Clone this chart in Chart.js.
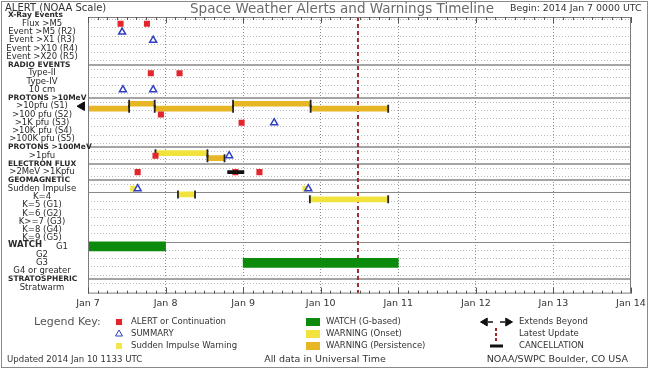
<!DOCTYPE html>
<html>
<head>
<meta charset="utf-8">
<title>Space Weather Alerts and Warnings Timeline</title>
<script src="https://cdn.jsdelivr.net/npm/chart.js"></script>
<style>
  html, body { margin: 0; padding: 0; background: #fff; }
  .chart-wrap { position: relative; width: 650px; height: 369px; }
</style>
</head>
<body>
<div class="chart-wrap"><canvas id="swChart"></canvas></div>
<script>
// rows of the timeline, top to bottom (index = row number on the y scale)
const rowLabels = [
  '', 'Flux >M5', 'Event >M5 (R2)', 'Event >X1 (R3)', 'Event >X10 (R4)', 'Event >X20 (R5)',
  '', 'Type-II', 'Type-IV', '10 cm',
  '', '>10pfu (S1)', '>100 pfu (S2)', '>1K pfu (S3)', '>10K pfu (S4)', '>100K pfu (S5)',
  '', '>1pfu',
  '', '>2MeV >1Kpfu',
  '', 'Sudden Impulse', 'K=4', 'K=5 (G1)', 'K=6 (G2)', 'K>=7 (G3)', 'K=8 (G4)', 'K=9 (G5)',
  'G1', 'G2', 'G3', 'G4 or greater',
  '', 'Stratwarm'
];
const sectionTitles = [
  [0, 'X-Ray Events'], [6, 'RADIO EVENTS'], [10, 'PROTONS >10MeV'], [16, 'PROTONS >100MeV'],
  [18, 'ELECTRON FLUX'], [20, 'GEOMAGNETIC'], [28, 'WATCH'], [32, 'STRATOSPHERIC']
];
const dayLabels = ['Jan 7', 'Jan 8', 'Jan 9', 'Jan 10', 'Jan 11', 'Jan 12', 'Jan 13', 'Jan 14'];

// times are days after 2014 Jan 7 0000 UTC
const alerts = [[1, 0.42], [1, 0.76], [7, 0.81], [7, 1.18], [12, 0.94], [13, 1.98],
                [17, 0.87], [19, 0.64], [19, 1.90], [19, 2.21]];
const summaries = [[2, 0.44], [3, 0.84], [9, 0.45], [9, 0.84], [13, 2.40], [17, 1.82],
                   [21, 0.64], [21, 2.84]];
const impulseWarnings = [[21, 0.58], [21, 2.80]];
// [row, start, end, kind]; a negative start runs in from before the chart
const warnings = [
  [11, -0.5, 0.53, 'persist'], [11, 0.53, 0.86, 'persist'], [11, 0.86, 1.87, 'persist'],
  [11, 1.87, 2.87, 'persist'], [11, 2.87, 3.87, 'persist'],
  [17, 0.87, 1.54, 'onset'], [17, 1.54, 1.76, 'persist'],
  [22, 1.16, 1.38, 'onset'], [22, 2.86, 3.87, 'onset']
];
const cancellations = [[19, 1.80, 2.01]];
const watches = [[28, 0, 1.0], [30, 2.0, 4.0]];
const extendsBeyond = [11];
const latestUpdate = 3.48;

const Y_MIN = 0.18, Y_MAX = 33.73;
const RED = '#e3262b', BLUE = '#2f3fc0', SI_YELLOW = '#f1e64a';
const ONSET = '#f2e33c', PERSIST = '#e6b624', GREEN = '#0b8a0b';
const FONT = '"DejaVu Sans", sans-serif';

// consecutive warnings in a row alternate between an upper and a lower lane
const LANE = 0.3;
const laneOf = {};
const warningBars = warnings.map(([row, start, end, kind]) => {
  if (!(row in laneOf)) laneOf[row] = start < 0 ? 1 : 0;
  else laneOf[row] = 1 - laneOf[row];
  return { x: [start, end], y: row + (laneOf[row] ? LANE : -LANE), kind: kind };
});
const edgeTicks = [];
warningBars.forEach(b => {
  if (b.x[0] >= 0) edgeTicks.push({ x: b.x[0], y: b.y });
  edgeTicks.push({ x: b.x[1], y: b.y });
});

const heavyRules = [6, 10, 16, 18, 20, 32];
const lightRules = [21.5, 27.5];
const gridRows = [];
for (let i = 0; i <= 32; i++) {
  if (!lightRules.includes(i + 0.5)) gridRows.push(i + 0.5);
}
gridRows.push(...heavyRules, ...lightRules);

const drawMark = (ctx, style, x, y) => Chart.helpers.drawPoint(ctx, style, x, y);

const decorations = {
  id: 'decorations',
  afterDraw(chart) {
    const { ctx, chartArea: area, scales: { x, y } } = chart;
    ctx.save();

    // plot frame and 3-hourly tick marks
    ctx.strokeStyle = '#7a7a7a';
    ctx.lineWidth = 1;
    ctx.strokeRect(area.left + 0.5, area.top + 0.5, area.right - area.left - 1, area.bottom - area.top - 1);
    ctx.strokeStyle = '#555';
    for (let h = 0; h <= 56; h++) {
      const px = Math.round(x.getPixelForValue(h / 8)) + 0.5;
      const len = h % 8 === 0 ? 6 : 3;
      ctx.beginPath();
      ctx.moveTo(px, area.top); ctx.lineTo(px, area.top + len);
      ctx.moveTo(px, area.bottom); ctx.lineTo(px, area.bottom - len);
      ctx.stroke();
    }

    // extends-beyond arrows
    ctx.fillStyle = '#111';
    ctx.strokeStyle = '#111';
    extendsBeyond.forEach(row => {
      drawMark(ctx, { pointStyle: 'triangle', rotation: 270, radius: 5, borderWidth: 1 },
        area.left - 6, y.getPixelForValue(row));
    });

    // row labels
    ctx.textBaseline = 'middle';
    ctx.fillStyle = '#2a2a2a';
    const titled = sectionTitles.map(s => s[0]);
    rowLabels.forEach((label, row) => {
      if (!label) return;
      ctx.font = '8.5px ' + FONT;
      ctx.textAlign = 'center';
      ctx.fillText(label, titled.includes(row) ? 62 : 42, y.getPixelForValue(row));
    });
    sectionTitles.forEach(([row, text]) => {
      ctx.font = (text === 'WATCH' ? 'bold 8.5px ' : 'bold 7.5px ') + FONT;
      ctx.textAlign = 'left';
      ctx.fillText(text, 8, y.getPixelForValue(row) - (text === 'WATCH' ? 2 : 0));
    });

    // header
    ctx.fillStyle = '#333';
    ctx.font = '10px ' + FONT;
    ctx.fillText('ALERT (NOAA Scale)', 5, 8);
    ctx.font = '9.4px ' + FONT;
    ctx.fillText('Begin: 2014 Jan 7 0000 UTC', 510, 9);
    ctx.fillStyle = '#6a6a6a';
    ctx.font = '13.5px ' + FONT;
    ctx.textAlign = 'center';
    ctx.fillText('Space Weather Alerts and Warnings Timeline', 342, 9);

    // legend key
    ctx.textAlign = 'left';
    ctx.fillStyle = '#555';
    ctx.font = '11px ' + FONT;
    ctx.fillText('Legend Key:', 34, 322);
    const rowsY = [322, 334, 346];
    ctx.font = '8.5px ' + FONT;

    ctx.fillStyle = RED;
    drawMark(ctx, { pointStyle: 'rect', radius: 4.3, borderWidth: 0 }, 119, rowsY[0]);
    ctx.strokeStyle = BLUE; ctx.fillStyle = 'rgba(0,0,0,0)';
    drawMark(ctx, { pointStyle: 'triangle', radius: 4, borderWidth: 1.5 }, 119, rowsY[1]);
    ctx.fillStyle = SI_YELLOW;
    drawMark(ctx, { pointStyle: 'rect', radius: 4.3, borderWidth: 0 }, 119, rowsY[2]);
    ctx.fillStyle = '#333';
    ['ALERT or Continuation', 'SUMMARY', 'Sudden Impulse Warning']
      .forEach((t, i) => ctx.fillText(t, 131, rowsY[i]));

    [GREEN, ONSET, PERSIST].forEach((c, i) => {
      ctx.fillStyle = c;
      ctx.fillRect(306, rowsY[i] - 4, 14, 8);
    });
    ctx.fillStyle = '#333';
    ['WATCH (G-based)', 'WARNING (Onset)', 'WARNING (Persistence)']
      .forEach((t, i) => ctx.fillText(t, 326, rowsY[i]));

    ctx.fillStyle = '#111'; ctx.strokeStyle = '#111';
    drawMark(ctx, { pointStyle: 'triangle', rotation: 270, radius: 4.5, borderWidth: 1 }, 485, rowsY[0]);
    drawMark(ctx, { pointStyle: 'triangle', rotation: 90, radius: 4.5, borderWidth: 1 }, 508, rowsY[0]);
    ctx.lineWidth = 1.5;
    ctx.beginPath();
    ctx.moveTo(488, rowsY[0]); ctx.lineTo(493, rowsY[0]);
    ctx.moveTo(500, rowsY[0]); ctx.lineTo(505, rowsY[0]);
    ctx.stroke();
    ctx.strokeStyle = '#a3262a'; ctx.lineWidth = 2; ctx.setLineDash([3, 2]);
    ctx.beginPath(); ctx.moveTo(496, rowsY[1] - 6); ctx.lineTo(496, rowsY[1] + 7); ctx.stroke();
    ctx.setLineDash([]);
    ctx.strokeStyle = '#111'; ctx.lineWidth = 3;
    ctx.beginPath(); ctx.moveTo(490, rowsY[2]); ctx.lineTo(503, rowsY[2]); ctx.stroke();
    ctx.fillStyle = '#333';
    ['Extends Beyond', 'Latest Update', 'CANCELLATION']
      .forEach((t, i) => ctx.fillText(t, 519, rowsY[i]));

    // footer
    ctx.font = '8.6px ' + FONT;
    ctx.fillText('Updated 2014 Jan 10 1133 UTC', 7, 360);
    ctx.font = '9.5px ' + FONT;
    ctx.textAlign = 'center';
    ctx.fillText('All data in Universal Time', 325, 360);
    ctx.textAlign = 'right';
    ctx.fillText('NOAA/SWPC Boulder, CO USA', 628, 360);

    // outer frame
    ctx.strokeStyle = '#8a8a8a'; ctx.lineWidth = 1;
    ctx.strokeRect(1.5, 1.5, 646, 366);
    ctx.restore();
  }
};

const ctx = document.getElementById('swChart').getContext('2d');
const chart = new Chart(ctx, {
  type: 'bar',
  data: {
    datasets: [
      {
        type: 'scatter', label: 'Alerts', order: 1,
        data: alerts.map(([row, t]) => ({ x: t, y: row })),
        pointStyle: 'rect', pointRadius: 4.3, pointBorderWidth: 0,
        backgroundColor: RED, borderColor: RED
      },
      {
        type: 'scatter', label: 'Summaries', order: 1,
        data: summaries.map(([row, t]) => ({ x: t, y: row })),
        pointStyle: 'triangle', pointRadius: 4, pointBorderWidth: 1.5,
        backgroundColor: 'rgba(255,255,255,0)', borderColor: BLUE
      },
      {
        type: 'scatter', label: 'Sudden impulse warnings', order: 2,
        data: impulseWarnings.map(([row, t]) => ({ x: t, y: row })),
        pointStyle: 'rect', pointRadius: 4, pointBorderWidth: 0,
        backgroundColor: SI_YELLOW, borderColor: SI_YELLOW
      },
      {
        type: 'bar', label: 'Cancellation', order: 0, grouped: false, clip: 0,
        data: cancellations.map(([row, s, e]) => ({ x: [s, e], y: row })),
        backgroundColor: '#111', barThickness: 3
      },
      {
        type: 'scatter', label: 'Warning edges', order: 3,
        data: edgeTicks,
        pointStyle: 'line', rotation: 90, pointRadius: 4, pointBorderWidth: 1.8,
        borderColor: '#222', backgroundColor: '#222'
      },
      {
        type: 'bar', label: 'Warnings', order: 4, grouped: false, clip: 0,
        data: warningBars,
        backgroundColor: warningBars.map(b => b.kind === 'onset' ? ONSET : PERSIST),
        barThickness: 5
      },
      {
        type: 'bar', label: 'Watches', order: 5, grouped: false, clip: 0,
        data: watches.map(([row, s, e]) => ({ x: [s, e], y: row })),
        backgroundColor: GREEN, barThickness: 9
      },
      {
        type: 'line', label: 'Latest update', order: 6, clip: 0,
        data: [{ x: latestUpdate, y: Y_MIN }, { x: latestUpdate, y: Y_MAX }],
        borderColor: '#a3262a', borderWidth: 2, borderDash: [4, 3], pointRadius: 0, fill: false
      }
    ]
  },
  options: {
    indexAxis: 'y',
    responsive: true,
    maintainAspectRatio: false,
    animation: false,
    events: [],
    layout: { padding: { left: 88, right: 19, top: 17, bottom: 56 } },
    plugins: { legend: { display: false }, tooltip: { enabled: false }, title: { display: false } },
    scales: {
      x: {
        type: 'linear', min: 0, max: 7, offset: false,
        afterBuildTicks: axis => { axis.ticks = dayLabels.map((_, i) => ({ value: i })); },
        ticks: {
          callback: v => dayLabels[v], autoSkip: false, maxRotation: 0,
          padding: 4, color: '#333', font: { family: FONT, size: 9.5 }
        },
        grid: {
          drawTicks: false, offset: false, lineWidth: 1,
          color: c => (c.tick && c.tick.value > 0 && c.tick.value < 7) ? '#8c8c8c' : 'rgba(0,0,0,0)'
        },
        border: { display: false, dash: [1, 2] }
      },
      y: {
        type: 'linear', reverse: true, min: Y_MIN, max: Y_MAX, offset: false,
        afterBuildTicks: axis => { axis.ticks = gridRows.map(v => ({ value: v })); },
        ticks: { display: false },
        grid: {
          drawTicks: false, offset: false,
          color: c => heavyRules.includes(c.tick.value) ? '#a5a5a5'
            : lightRules.includes(c.tick.value) ? '#8a8a8a' : '#b8b8b8',
          lineWidth: c => heavyRules.includes(c.tick.value) ? 2 : 1
        },
        border: {
          display: false,
          dash: c => (heavyRules.includes(c.tick.value) || lightRules.includes(c.tick.value)) ? [] : [1, 2]
        }
      }
    }
  },
  plugins: [decorations]
});
</script>
</body>
</html>
